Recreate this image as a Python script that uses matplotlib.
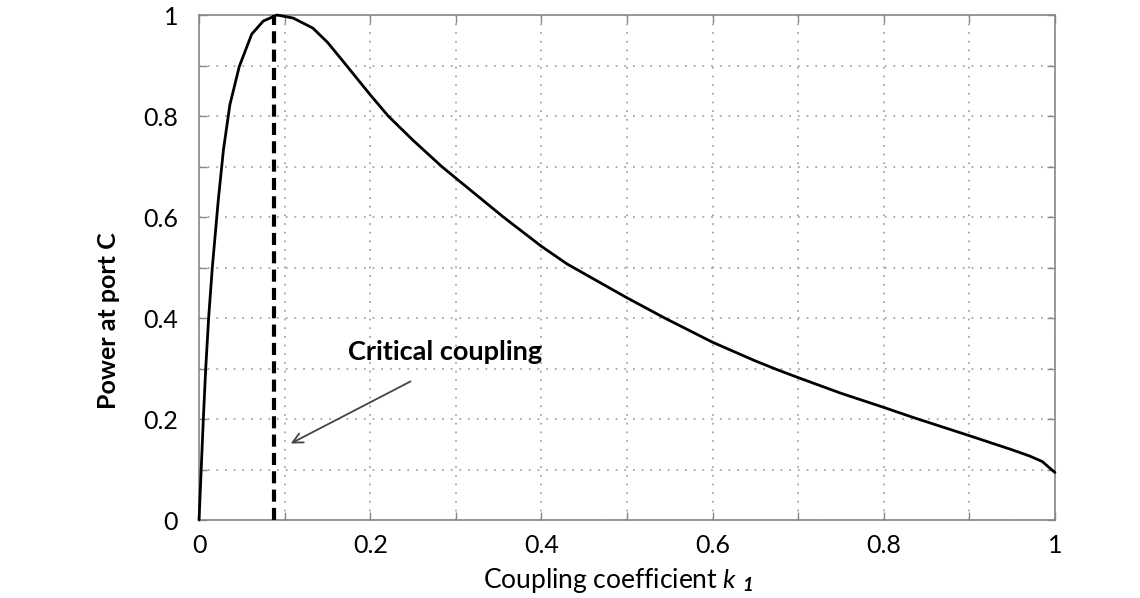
import matplotlib
matplotlib.use("Agg")
import matplotlib.pyplot as plt

plt.rcParams['font.family'] = ['Lato', 'DejaVu Sans']
plt.rcParams['mathtext.fontset'] = 'custom'
plt.rcParams['mathtext.rm'] = 'Lato'
plt.rcParams['mathtext.it'] = 'Lato:italic'
plt.rcParams['mathtext.bf'] = 'Lato:bold'
plt.rcParams['mathtext.bfit'] = 'Lato:italic:bold'

# Data
k1 = [0, 0.0025, 0.005, 0.0078, 0.0112, 0.0155, 0.0225, 0.0285, 0.036, 0.047,
      0.0615, 0.075, 0.091, 0.11, 0.133, 0.15, 0.167, 0.2, 0.221, 0.25, 0.2835,
      0.3, 0.3555, 0.4, 0.43, 0.5, 0.544, 0.6, 0.65, 0.675, 0.7, 0.75, 0.8,
      0.8345, 0.9, 0.95, 0.97, 0.985, 1.0]
power = [0, 0.1, 0.2, 0.3, 0.4, 0.5, 0.634, 0.733, 0.822, 0.898,
         0.962, 0.988, 1.0, 0.994, 0.974, 0.946, 0.911, 0.842, 0.8, 0.752, 0.7,
         0.677, 0.6, 0.542, 0.507, 0.44, 0.4, 0.352, 0.315, 0.298, 0.282, 0.251, 0.223,
         0.203, 0.167, 0.139, 0.127, 0.116, 0.094]
critical_k = 0.088
grid_ticks = [i / 10 for i in range(11)]
tick_labels = ['0', '', '0.2', '', '0.4', '', '0.6', '', '0.8', '', '1']

fig = plt.figure(figsize=(11.4, 5.98), dpi=100)
ax = fig.add_axes([0.1746, 0.1304, 0.7508, 0.8445])

ax.plot(k1, power, color='black', lw=2.0, solid_capstyle='round',
        solid_joinstyle='round', zorder=3, clip_on=False)
ax.plot([critical_k, critical_k], [0, 1], color='black', lw=3.0,
        linestyle=(0, (2.9, 1.5)), dash_capstyle='butt', zorder=3)

ax.set_xlim(0, 1)
ax.set_ylim(0, 1)
ax.set_xticks(grid_ticks)
ax.set_xticklabels(tick_labels)
ax.set_yticks(grid_ticks)
ax.set_yticklabels(tick_labels)
ax.tick_params(direction='in', length=6, width=1, color='#888888',
               top=True, right=True, labelsize=18)
ax.tick_params(axis='y', pad=15)
ax.tick_params(axis='x', pad=10)
ax.grid(True, linestyle=(0, (1, 4)), color='#a0a0a0', lw=1.25)
for s in ax.spines.values():
    s.set_color('#888888')
    s.set_linewidth(1.2)

ax.set_ylabel('Power at port C', fontsize=18, fontweight='bold')
ax.yaxis.set_label_coords(-0.1063, 0.394)
ax.set_xlabel(r'Coupling coefficient $\mathit{k}\ _{\mathbfit{1}}$', fontsize=19)
ax.xaxis.set_label_coords(0.49, -0.119)
ax.xaxis.label.set_verticalalignment('center')
ax.yaxis.label.set_verticalalignment('center')

ax.text(0.174, 0.333, 'Critical coupling', fontsize=19.5, fontweight='bold',
        va='center', ha='left', zorder=4)
ax.annotate('', xy=(0.1043, 0.149), xytext=(0.25, 0.277),
            arrowprops=dict(arrowstyle='->', color='#444444', lw=1.3,
                            mutation_scale=18), zorder=4)

fig.savefig('out.png', dpi=100)
